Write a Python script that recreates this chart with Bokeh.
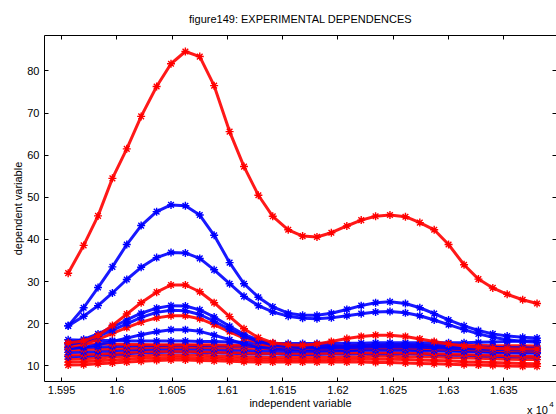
from bokeh.plotting import figure
from bokeh.models import Range1d, FixedTicker, LinearAxis, Label, CustomJSTickFormatter
from bokeh.embed import file_html
from bokeh.resources import INLINE

# ---------------- data ----------------
x_nodes = [15956, 15970, 15983, 15996, 16009, 16022, 16036, 16049, 16062, 16075,
           16088, 16102, 16115, 16128, 16141, 16155, 16168, 16181, 16194, 16208,
           16221, 16234, 16247, 16261, 16274, 16287, 16300, 16314, 16327, 16340,
           16353, 16367, 16380]

x_ticks = [15950, 16000, 16050, 16100, 16150, 16200, 16250, 16300, 16350]
x_tick_labels = ["1.595", "1.6", "1.605", "1.61", "1.615", "1.62", "1.625", "1.63", "1.635"]
y_ticks = [10, 20, 30, 40, 50, 60, 70, 80]

# flat bundle (bottom to top)
f1_red = [10.2, 10.3, 10.5, 10.7, 10.9, 11.1, 11.3, 11.4, 11.4, 11.3, 11.2, 11.1, 11.0, 10.9, 10.9, 10.9, 10.9,
          10.9, 10.9, 10.9, 10.9, 10.8, 10.8, 10.7, 10.6, 10.5, 10.4, 10.3, 10.2, 10.1, 10.0, 9.9, 9.9]
f2_red = [10.9, 11.0, 11.2, 11.4, 11.6, 11.8, 11.9, 12.0, 12.0, 11.9, 11.8, 11.7, 11.6, 11.5, 11.5, 11.4, 11.4,
          11.4, 11.5, 11.5, 11.6, 11.6, 11.6, 11.5, 11.4, 11.3, 11.2, 11.0, 10.9, 10.8, 10.7, 10.6, 10.5]
f3_red = [11.6, 11.7, 11.9, 12.1, 12.3, 12.4, 12.5, 12.6, 12.6, 12.5, 12.4, 12.3, 12.2, 12.1, 12.0, 12.0, 12.0,
          12.0, 12.1, 12.2, 12.2, 12.3, 12.3, 12.2, 12.2, 12.1, 12.0, 11.9, 11.8, 11.7, 11.6, 11.5, 11.5]
f4_blue = [12.2, 12.3, 12.5, 12.7, 12.9, 13.1, 13.2, 13.3, 13.3, 13.2, 13.1, 13.0, 12.9, 12.8, 12.8, 12.7, 12.7,
           12.7, 12.8, 12.8, 12.9, 12.9, 12.9, 12.9, 12.8, 12.7, 12.6, 12.5, 12.4, 12.3, 12.2, 12.2, 12.1]
f5_red = [12.6, 12.7, 12.8, 13.0, 13.2, 13.4, 13.5, 13.5, 13.5, 13.4, 13.3, 13.2, 13.1, 13.0, 13.0, 13.0, 13.0,
          13.0, 13.0, 13.1, 13.1, 13.1, 13.1, 13.1, 13.0, 12.9, 12.8, 12.7, 12.6, 12.5, 12.4, 12.3, 12.2]
f6_blue = [13.2, 13.3, 13.4, 13.6, 13.8, 13.9, 14.0, 14.1, 14.1, 14.0, 13.9, 13.8, 13.7, 13.6, 13.6, 13.5, 13.5,
           13.5, 13.6, 13.6, 13.7, 13.7, 13.7, 13.7, 13.6, 13.6, 13.5, 13.4, 13.3, 13.2, 13.1, 13.0, 13.0]
f7_red = [13.8, 13.9, 14.0, 14.1, 14.2, 14.3, 14.4, 14.4, 14.4, 14.4, 14.3, 14.3, 14.2, 14.2, 14.1, 14.1, 14.1,
          14.1, 14.1, 14.2, 14.2, 14.2, 14.2, 14.2, 14.2, 14.1, 14.1, 14.0, 14.0, 13.9, 13.9, 13.8, 13.8]
f8_blue = [14.4, 14.4, 14.5, 14.6, 14.7, 14.8, 14.8, 14.9, 14.9, 14.8, 14.8, 14.7, 14.7, 14.6, 14.6, 14.5, 14.5,
           14.5, 14.5, 14.6, 14.6, 14.6, 14.6, 14.6, 14.6, 14.5, 14.5, 14.4, 14.4, 14.3, 14.3, 14.2, 14.2]
f9_red = [15.3, 15.3, 15.2, 15.2, 15.1, 15.1, 15.0, 15.0, 15.0, 15.0, 15.0, 14.9, 14.9, 14.9, 14.8, 14.8, 14.8,
          14.8, 14.8, 14.8, 14.9, 14.9, 14.9, 14.9, 14.9, 14.9, 14.9, 14.9, 14.9, 14.8, 14.8, 14.8, 14.7]
f10_blue = [16.2, 16.1, 16.0, 16.0, 15.9, 15.9, 15.9, 15.9, 15.9, 15.8, 15.8, 15.7, 15.6, 15.5, 15.4, 15.3, 15.3,
            15.3, 15.3, 15.4, 15.4, 15.5, 15.5, 15.5, 15.5, 15.5, 15.5, 15.5, 15.6, 15.7, 15.8, 15.9, 16.0]

# middle humps
b4_blue = [14.0, 14.4, 15.0, 15.8, 16.6, 17.4, 18.1, 18.6, 18.6, 18.2, 17.3, 16.2, 15.2, 14.5, 14.1, 13.9, 13.8,
           13.7, 13.7, 13.8, 13.9, 14.0, 14.0, 14.0, 13.9, 13.8, 13.7, 13.6, 13.5, 13.4, 13.3, 13.3, 13.2]
r3_red = [14.5, 15.2, 16.3, 17.7, 19.1, 20.4, 21.4, 21.9, 21.9, 21.2, 19.8, 18.1, 16.6, 15.5, 14.8, 14.4, 14.2,
          14.1, 14.1, 14.2, 14.3, 14.3, 14.3, 14.3, 14.2, 14.1, 14.0, 13.9, 13.8, 13.7, 13.6, 13.6, 13.5]
b3b_blue = [15.0, 15.8, 17.0, 18.5, 20.0, 21.5, 22.7, 23.2, 23.1, 22.2, 20.6, 18.7, 17.0, 15.8, 15.0, 14.5, 14.3,
            14.2, 14.2, 14.3, 14.4, 14.5, 14.5, 14.5, 14.4, 14.3, 14.2, 14.1, 14.0, 13.9, 13.9, 13.8, 13.8]
b3a_blue = [15.5, 16.3, 17.6, 19.2, 20.9, 22.5, 23.7, 24.3, 24.2, 23.3, 21.6, 19.4, 17.5, 16.1, 15.3, 14.9, 14.7,
            14.6, 14.6, 14.7, 14.8, 14.9, 15.0, 15.0, 14.9, 14.8, 14.7, 14.6, 14.5, 14.4, 14.3, 14.3, 14.2]
r2_red = [15.5, 15.9, 17.2, 19.6, 22.3, 25.0, 27.5, 29.2, 29.2, 27.6, 25.0, 21.7, 18.8, 16.7, 15.5, 15.0, 14.9,
          15.2, 15.8, 16.5, 17.0, 17.3, 17.3, 17.0, 16.4, 15.8, 15.2, 14.7, 14.4, 14.2, 14.1, 14.0, 14.0]

# big curves
b2_blue = [19.5, 21.8, 24.3, 27.3, 30.5, 33.4, 35.7, 36.9, 36.8, 35.5, 32.8, 29.5, 26.5, 24.3, 22.8, 21.8, 21.3,
           21.2, 21.4, 21.9, 22.4, 22.8, 22.9, 22.6, 21.9, 20.9, 19.8, 18.6, 17.6, 16.8, 16.2, 15.8, 15.6]
b1_blue = [19.5, 23.8, 28.6, 33.5, 38.8, 43.3, 46.6, 48.2, 48.0, 45.8, 41.0, 34.5, 29.5, 26.3, 24.0, 22.5, 22.0,
           22.0, 22.5, 23.4, 24.3, 25.0, 25.2, 24.8, 23.8, 22.4, 20.9, 19.5, 18.4, 17.6, 17.1, 16.8, 16.6]
r1_red = [32.0, 38.6, 45.6, 54.5, 61.5, 69.2, 76.3, 81.7, 84.6, 83.4, 76.5, 65.6, 57.3, 50.5, 45.5, 42.3, 40.8,
          40.6, 41.6, 43.2, 44.6, 45.5, 45.8, 45.4, 44.0, 42.3, 38.8, 34.0, 30.6, 28.5, 27.0, 25.7, 24.8]

series = [f1_red, f2_red, f3_red, f4_blue, f5_red, f6_blue, f7_red, f8_blue, f9_red, f10_blue,
          b4_blue, r3_red, b3b_blue, b3a_blue, r2_red, b2_blue, b1_blue, r1_red]
colors = ["#ff0000", "#ff0000", "#ff0000", "#0000ff", "#ff0000", "#0000ff", "#ff0000", "#0000ff", "#ff0000",
          "#0000ff", "#0000ff", "#ff0000", "#0000ff", "#0000ff", "#ff0000", "#0000ff", "#0000ff", "#ff0000"]

FONT = "Liberation Sans"

p = figure(width=556, height=414, output_backend="svg", toolbar_location=None,
           x_range=Range1d(15934.6, 16397.6), y_range=Range1d(6.3, 88.4),
           min_border_left=44, min_border_right=0, min_border_top=35, min_border_bottom=33,
           title="figure149: EXPERIMENTAL DEPENDENCES")
p.title.align = "center"
p.title.text_font = FONT
p.title.text_font_size = "11px"
p.title.text_font_style = "normal"
p.title.text_color = "black"
p.title.standoff = -3
p.outline_line_color = None
p.grid.visible = False
p.background_fill_color = "white"
p.border_fill_color = "white"

for ys, c in zip(series, colors):
    p.line(x_nodes, ys, line_color=c, line_width=3, line_alpha=0.9)
    p.scatter(x_nodes, ys, marker="asterisk", size=8, line_color=c, line_width=1.4)

def style_axis(ax, show_labels=True):
    ax.major_tick_in = 4
    ax.major_tick_out = 0
    ax.minor_tick_line_color = None
    ax.axis_line_color = "black"
    ax.axis_line_width = 1
    ax.major_tick_line_color = "black"
    ax.major_label_text_font = FONT
    ax.major_label_text_color = "black"
    ax.major_label_text_font_size = "11px"
    if not show_labels:
        ax.formatter = CustomJSTickFormatter(code="return ''")
        ax.major_label_standoff = 0

xa = p.xaxis[0]
xa.ticker = FixedTicker(ticks=x_ticks)
xa.major_label_overrides = dict(zip(x_ticks, x_tick_labels))
style_axis(xa)
xa.major_label_standoff = 4
xa.axis_label = "independent variable"
xa.axis_label_text_font = FONT
xa.axis_label_text_font_size = "11px"
xa.axis_label_text_font_style = "normal"
xa.axis_label_text_color = "black"
xa.axis_label_standoff = 0

ya = p.yaxis[0]
ya.ticker = FixedTicker(ticks=y_ticks)
style_axis(ya)
ya.major_label_standoff = 5
ya.axis_label = "dependent variable"
ya.axis_label_text_font = FONT
ya.axis_label_text_font_size = "11px"
ya.axis_label_text_font_style = "normal"
ya.axis_label_text_color = "black"
ya.axis_label_standoff = 0

top = LinearAxis(ticker=FixedTicker(ticks=x_ticks))
style_axis(top, show_labels=False)
p.add_layout(top, "above")

right = LinearAxis(ticker=FixedTicker(ticks=y_ticks))
style_axis(right, show_labels=False)
right.axis_line_color = None
p.add_layout(right, "right")

# exponent note of the x axis ("x 10" with a raised "4"), kept in side panels
# so that the frame does not clip it
p.add_layout(Label(x=16371, y=-0.45, text="x 10", text_font=FONT, text_font_size="11px",
                   text_baseline="middle", text_color="black"), "above")
p.add_layout(Label(x=16391, y=0.75, text="4", text_font=FONT, text_font_size="8px",
                   text_baseline="middle", text_color="black"), "left")

open("out.html", "w").write(file_html(p, INLINE))
